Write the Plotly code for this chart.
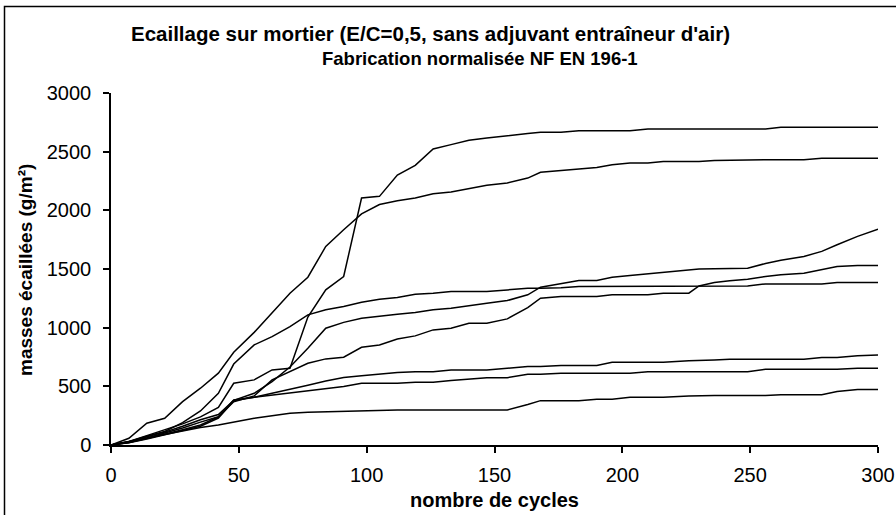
import plotly.graph_objects as go

cycles = [0, 7, 14, 21, 28, 35, 42, 48, 56, 63, 70, 77, 84, 91, 98, 105, 112, 119, 126, 133,
          140, 147, 155, 163, 168, 176, 183, 190, 196, 203, 210, 216, 226, 230, 236, 242, 249,
          256, 262, 271, 278, 284, 292, 300]

serie_1 = [0, 30, 80, 130, 180, 240, 320, 526, 555, 640, 654, 1090, 1322, 1436, 2105, 2119, 2300,
           2383, 2523, 2560, 2597, 2617, 2639, 2655, 2665, 2665, 2679, 2679, 2679, 2679, 2694, 2694,
           2694, 2694, 2694, 2694, 2694, 2694, 2708, 2708, 2708, 2708, 2708, 2708]
serie_2 = [0, 57, 185, 228, 369, 484, 612, 790, 960, 1124, 1294, 1430, 1692, 1834, 1970, 2050, 2082,
           2105, 2142, 2156, 2184, 2213, 2233, 2275, 2324, 2338, 2352, 2366, 2389, 2403, 2403, 2417,
           2417, 2417, 2424, 2428, 2432, 2432, 2432, 2432, 2443, 2443, 2443, 2443]
serie_3 = [0, 25, 70, 110, 160, 215, 260, 380, 441, 540, 665, 825, 995, 1045, 1080, 1100, 1115,
           1129, 1152, 1166, 1189, 1209, 1231, 1280, 1345, 1373, 1402, 1402, 1430, 1444, 1459, 1470,
           1487, 1499, 1502, 1505, 1507, 1547, 1575, 1607, 1650, 1707, 1778, 1840]
serie_4 = [0, 22, 60, 100, 145, 195, 240, 369, 418, 555, 626, 697, 734, 748, 833, 853, 904,
           930, 981, 995, 1038, 1038, 1075, 1170, 1251, 1265, 1265, 1265, 1280, 1280, 1280, 1294,
           1294, 1356, 1385, 1400, 1413, 1436, 1450, 1464, 1498, 1521, 1530, 1530]
serie_5 = [0, 28, 75, 115, 190, 290, 441, 690, 853, 924, 1009, 1109, 1152, 1180, 1217, 1243, 1257,
           1285, 1294, 1308, 1308, 1308, 1322, 1337, 1337, 1340, 1351, 1351, 1356, 1356, 1356, 1356,
           1356, 1356, 1356, 1356, 1356, 1373, 1373, 1373, 1373, 1385, 1385, 1385]
serie_6 = [0, 22, 55, 90, 130, 170, 240, 384, 407, 441, 478, 509, 545, 576, 591, 606, 617,
           625, 625, 640, 640, 640, 654, 668, 668, 677, 677, 677, 705, 705, 705, 705,
           719, 719, 725, 731, 731, 731, 731, 731, 745, 745, 760, 768]
serie_7 = [0, 20, 50, 85, 120, 160, 230, 378, 407, 425, 441, 461, 480, 498, 526, 526, 526,
           535, 535, 549, 563, 574, 574, 603, 603, 612, 612, 612, 612, 612, 625, 625,
           625, 625, 625, 625, 625, 645, 645, 645, 645, 645, 654, 654]
serie_8 = [0, 30, 60, 90, 120, 150, 170, 195, 228, 250, 270, 280, 285, 290, 293, 296, 299,
           299, 299, 299, 299, 299, 299, 345, 378, 378, 378, 390, 390, 407, 407, 407,
           418, 421, 421, 421, 421, 421, 429, 429, 429, 455, 472, 472]

all_series = [serie_1, serie_2, serie_3, serie_4, serie_5, serie_6, serie_7, serie_8]

x_ticks = [0, 50, 100, 150, 200, 250, 300]
y_ticks = [0, 500, 1000, 1500, 2000, 2500, 3000]

title_1 = "Ecaillage sur mortier (E/C=0,5, sans adjuvant entraîneur d'air)"
title_2 = "Fabrication normalisée NF EN 196-1"
x_title = "nombre de cycles"
y_title = "masses écaillées (g/m²)"

FONT = "Arial, Liberation Sans, sans-serif"

fig = go.Figure()
for s in all_series:
    fig.add_trace(go.Scatter(x=cycles, y=s, mode="lines",
                             line=dict(color="black", width=1.5), showlegend=False,
                             hoverinfo="skip"))

W, H = 896, 515
L, R, T, B = 111, 18, 93, 70
pw = W - L - R
ph = H - T - B

def px_x(p):
    return (p - L) / pw

def px_y(p):
    return (H - B - p) / ph

fig.update_layout(
    width=W, height=H,
    margin=dict(l=L, r=R, t=T, b=B, autoexpand=False),
    paper_bgcolor="white", plot_bgcolor="white",
    font=dict(family=FONT, size=16, color="black"),
    xaxis=dict(range=[0, 300], tickvals=x_ticks, showgrid=False, zeroline=False,
               showline=True, linecolor="black", linewidth=1.5, automargin=False,
               ticks="outside", ticklen=6, tickwidth=1.5, tickcolor="black",
               ticklabelstandoff=5, tickfont=dict(size=20, family=FONT)),
    yaxis=dict(range=[0, 3000], tickvals=y_ticks, showgrid=False, zeroline=False,
               showline=True, linecolor="black", linewidth=1.5, automargin=False,
               ticks="outside", ticklen=6, tickwidth=1.5, tickcolor="black",
               ticklabelstandoff=8, tickfont=dict(size=20, family=FONT)),
    annotations=[
        dict(text="<b>" + title_1 + "</b>", x=px_x(430), y=px_y(34), xref="paper", yref="paper",
             showarrow=False, xanchor="center", yanchor="middle", font=dict(size=20.5, family=FONT)),
        dict(text="<b>" + title_2 + "</b>", x=px_x(480), y=px_y(58), xref="paper", yref="paper",
             showarrow=False, xanchor="center", yanchor="middle", font=dict(size=18.5, family=FONT)),
        dict(text="<b>" + x_title + "</b>", x=px_x(494), y=px_y(500), xref="paper", yref="paper",
             showarrow=False, xanchor="center", yanchor="middle", font=dict(size=20, family=FONT)),
        dict(text="<b>" + y_title + "</b>", x=px_x(25), y=px_y(270), xref="paper", yref="paper",
             showarrow=False, xanchor="center", yanchor="middle", textangle=-90,
             font=dict(size=19, family=FONT)),
    ],
    shapes=[dict(type="rect", xref="paper", yref="paper",
                 x0=px_x(4.5), x1=px_x(1000), y0=px_y(600), y1=px_y(6.5),
                 line=dict(color="black", width=1.5), fillcolor="rgba(0,0,0,0)", layer="above")],
)

fig.write_html("out.html", config={"displayModeBar": False},
               post_script="document.body.style.margin='0px';document.body.style.overflow='hidden';")
